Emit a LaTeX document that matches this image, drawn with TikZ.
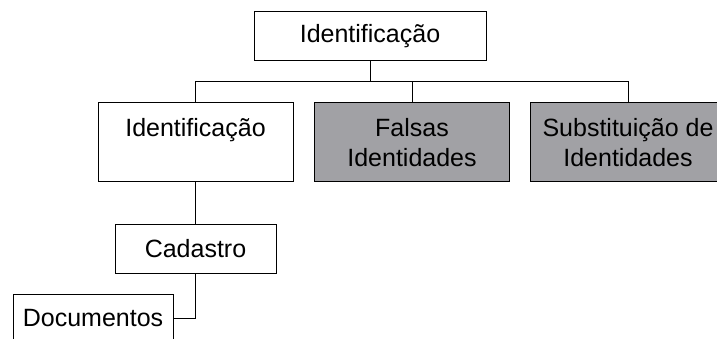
\documentclass[tikz,border=0pt]{standalone}
\usepackage{fontspec}
\setmainfont{Liberation Sans}
\usepackage{xcolor}
\definecolor{boxgray}{RGB}{161,161,165}

\begin{document}
\begin{tikzpicture}[line width=1pt,
		main node/.style={rectangle,draw,align=center,inner sep=0pt,
			font=\fontsize{25}{30}\selectfont},
		top node/.style={main node,minimum width=232pt,minimum height=49pt},
		mid node/.style={main node,minimum width=195pt,minimum height=79pt},
		leaf node/.style={main node,minimum width=161pt,minimum height=49pt}]
		
		\clip (0,0) rectangle (717pt,-339pt);
		\useasboundingbox (0,0) rectangle (717pt,-339pt);
		
		\node[top node] (top) at (370pt,-36.5pt) {Identifica\c{c}\~ao};
		\node[mid node,fill=boxgray] (falsas) [below of=top, node distance=106pt, xshift=42pt] {Falsas\\Identidades};
		\node[mid node] (ident) [left of=falsas, node distance=216.5pt] {Identifica\c{c}\~ao\\\mbox{}};
		\node[mid node,fill=boxgray] (subst) [right of=falsas, node distance=216pt] {Substitui\c{c}\~ao de\\Identidades};
		\node[leaf node] (cadastro) [below of=ident, node distance=106pt] {Cadastro};
		\node[leaf node,minimum width=160pt] (docs) [below of=cadastro, node distance=70pt, xshift=-102.5pt] {Documentos};
		
		
		\coordinate (bus) at ([yshift=-20pt]top.south);
		\draw (top.south) -- (bus);
		\draw (ident.north) |- (bus) -| (subst.north);
		\draw (falsas.north) -- (falsas.north |- bus);
		\draw (ident.south) -- (cadastro.north);
		\draw (cadastro.south) |- (docs.east);
		\end{tikzpicture}
\end{document}
